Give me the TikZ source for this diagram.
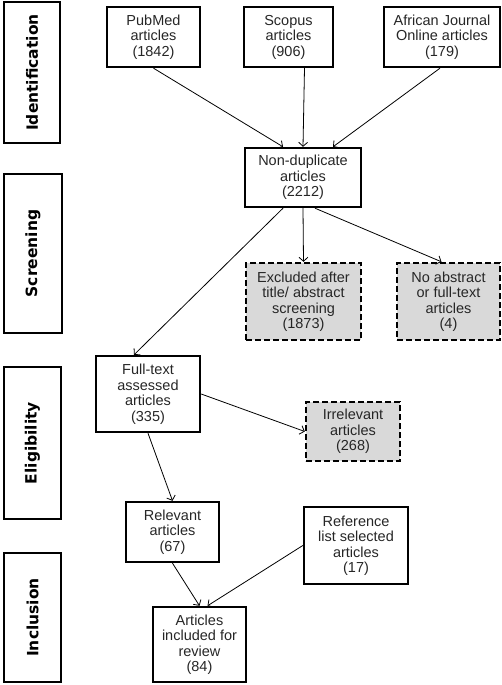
\documentclass[tikz,border=0pt]{standalone}
\usepackage{fontspec}
\setmainfont{Liberation Sans}
\newfontfamily\phasefont{DejaVu Sans}
\usepackage{tikz}
\usetikzlibrary{arrows.meta, positioning, calc}
\definecolor{exclgray}{RGB}{217,217,217}

\begin{document}
\begin{tikzpicture}[
    x=1pt, y=-1pt,
    box/.style={rectangle, draw, line width=2.4pt, align=center, inner sep=2pt,
        font=\fontsize{14.5}{15.5}\selectfont, text=black!85},
    excl/.style={box, dashed, dash pattern=on 6pt off 3pt, fill=exclgray},
    phase/.style={rectangle, draw, line width=2.4pt, rotate=90, inner sep=0pt,
        font=\phasefont\bfseries\fontsize{15.5}{18}\selectfont},
    link/.style={->, line width=0.8pt},
    >={Straight Barb[length=4pt,width=9pt]}
]
\useasboundingbox (0,0) rectangle (502,685);

% Phase labels
\node[phase, minimum width=141pt, minimum height=56pt] (ident) at (32,72.5) {Identification};
\node[phase, minimum width=159pt, minimum height=58pt] (screen) at (33,253.5) {Screening};
\node[phase, minimum width=152pt, minimum height=57pt] (elig) at (32.5,443) {Eligibility};
\node[phase, minimum width=129pt, minimum height=57pt] (incl) at (32.5,617.5) {Inclusion};

% Sources
\node[box, minimum width=93pt, minimum height=60pt] (pubmed) at (153.5,37) {PubMed\\articles\\(1842)};
\node[box, minimum width=89pt, minimum height=60pt] (scopus) at (288.5,37) {Scopus\\articles\\(906)};
\node[box, minimum width=116pt, minimum height=60pt] (ajol) at (442,37) {African Journal\\Online articles\\(179)};

% Screening
\node[box, minimum width=116pt, minimum height=59pt] (nondup) at (303,177.5) {Non-duplicate\\articles\\(2212)};
\node[excl, minimum width=115pt, minimum height=77pt] (excluded) at (303.5,301.5) {Excluded after\\title/ abstract\\screening\\(1873)};
\node[excl, minimum width=103pt, minimum height=77pt] (noabs) at (448.5,301.5) {No abstract\\or full-text\\articles\\(4)};

% Eligibility
\node[box, minimum width=104pt, minimum height=76pt] (fulltext) at (148,394) {Full-text\\assessed\\articles\\(335)};
\node[excl, minimum width=94pt, minimum height=59pt] (irrel) at (353,431.5) {Irrelevant\\articles\\(268)};

% Inclusion
\node[box, minimum width=93pt, minimum height=60pt] (relevant) at (172.5,532) {Relevant\\articles\\(67)};
\node[box, minimum width=104pt, minimum height=77pt] (reflist) at (356,545.5) {Reference\\list selected\\articles\\(17)};
\node[box, minimum width=93pt, minimum height=75pt] (included) at (199.5,644.5) {Articles\\included for\\review\\(84)};

% Connectors
\draw[link] (pubmed.south) -- ([xshift=-20pt]nondup.north);
\draw[link] ([xshift=16pt]scopus.south) -- (nondup.north);
\draw[link] ([xshift=-2pt]ajol.south) -- ([xshift=30pt]nondup.north);
\draw[link] ([xshift=-20pt]nondup.south) -- ([xshift=-14pt]fulltext.north);
\draw[link] (nondup.south) -- (excluded.north);
\draw[link] ([xshift=12pt]nondup.south) -- ([xshift=-7pt]noabs.north);
\draw[link] (fulltext.east) -- (irrel.west);
\draw[link] (fulltext.south) -- (relevant.north);
\draw[link] (relevant.south) -- (included.north);
\draw[link] (reflist.west) -- ([xshift=8pt]included.north);

\end{tikzpicture}
\end{document}
